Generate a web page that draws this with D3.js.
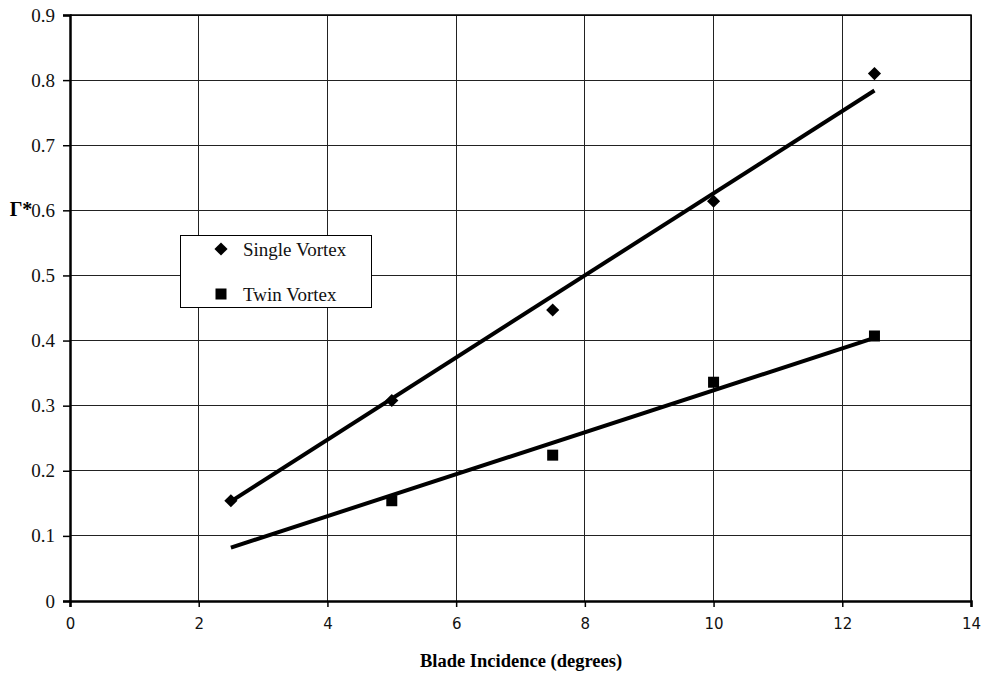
<!DOCTYPE html>
<html>
<head>
<meta charset="utf-8">
<script src="https://cdn.jsdelivr.net/npm/d3@7"></script>
<style>
  html, body { margin: 0; padding: 0; background: #fff; }
  svg { display: block; }
</style>
</head>
<body>
<svg id="chart" width="987" height="673"></svg>
<script>
// Blade incidence (degrees) at which circulation was measured
const incidence = [2.5, 5, 7.5, 10, 12.5];
// Non-dimensional circulation for each vortex configuration
const singleVortex = [0.154, 0.308, 0.447, 0.614, 0.81];
const twinIncidence = [5, 7.5, 10, 12.5];
const twinVortex = [0.154, 0.224, 0.336, 0.407];
// Linear trend lines, end points
const fitX = [2.5, 12.5];
const singleFit = [0.153, 0.784];
const twinFit = [0.082, 0.404];
// Axis ticks
const xTicks = [0, 2, 4, 6, 8, 10, 12, 14];
const yTicks = [0, 0.1, 0.2, 0.3, 0.4, 0.5, 0.6, 0.7, 0.8, 0.9];
const legendLabels = ["Single Vortex", "Twin Vortex"];

const serif = "'Liberation Serif', 'Times New Roman', serif";
const sans = "'DejaVu Sans', Verdana, sans-serif";

const svg = d3.select("#chart");
const m = { left: 70, right: 971, top: 15, bottom: 601 };

const x = d3.scaleLinear().domain([0, 14]).range([m.left, m.right]);
const y = d3.scaleLinear().domain([0, 0.9]).range([m.bottom, m.top]);

// Grid
const grid = svg.append("g").attr("stroke", "#222").attr("stroke-width", 1).attr("shape-rendering", "crispEdges");
grid.selectAll("line.h").data(yTicks.slice(1)).join("line")
  .attr("x1", m.left).attr("x2", m.right)
  .attr("y1", d => y(d)).attr("y2", d => y(d));
grid.selectAll("line.v").data(xTicks.slice(1)).join("line")
  .attr("y1", m.top).attr("y2", m.bottom)
  .attr("x1", d => x(d)).attr("x2", d => x(d));

// Frame (top and right)
svg.append("path")
  .attr("d", `M${m.left},${m.top}H${m.right}V${m.bottom}`)
  .attr("fill", "none").attr("stroke", "#000").attr("stroke-width", 1.5);

// Axes
const yAxis = svg.append("g").attr("transform", `translate(${m.left},0)`)
  .call(d3.axisLeft(y).tickValues(yTicks).tickSize(7).tickPadding(8)
    .tickFormat(d => d === 0 ? "0" : d3.format(".1f")(d)));
yAxis.attr("font-family", serif).attr("font-size", 19);
yAxis.select(".domain").attr("stroke-width", 2.5);
yAxis.selectAll(".tick line").attr("stroke-width", 1.5);
yAxis.selectAll(".tick text").attr("fill", "#111");

const xAxis = svg.append("g").attr("transform", `translate(0,${m.bottom})`)
  .call(d3.axisBottom(x).tickValues(xTicks).tickSize(6).tickPadding(11).tickFormat(d3.format("d")));
xAxis.attr("font-family", sans).attr("font-size", 15);
xAxis.select(".domain").attr("stroke-width", 2.5);
xAxis.selectAll(".tick line").attr("stroke-width", 1.5);
xAxis.selectAll(".tick text").attr("fill", "#111");

// Trend lines
const line = d3.line().x(d => x(d[0])).y(d => y(d[1]));
[singleFit, twinFit].forEach(fit => {
  svg.append("path")
    .datum(fitX.map((v, i) => [v, fit[i]]))
    .attr("d", line)
    .attr("fill", "none").attr("stroke", "#000").attr("stroke-width", 4);
});

// Markers
const diamond = d3.symbol().type(d3.symbolDiamond2).size(110);
svg.append("g").selectAll("path").data(incidence.map((v, i) => [v, singleVortex[i]])).join("path")
  .attr("d", diamond)
  .attr("transform", d => `translate(${x(d[0])},${y(d[1])})`)
  .attr("fill", "#000");

svg.append("g").selectAll("rect").data(twinIncidence.map((v, i) => [v, twinVortex[i]])).join("rect")
  .attr("x", d => x(d[0]) - 5.5).attr("y", d => y(d[1]) - 5.5)
  .attr("width", 11).attr("height", 11)
  .attr("fill", "#000");

// Axis titles
svg.append("text")
  .attr("x", 21).attr("y", 216)
  .attr("text-anchor", "middle")
  .attr("font-family", serif)
  .attr("font-weight", "bold").attr("font-size", 20)
  .text("Γ*");

svg.append("text")
  .attr("x", 521).attr("y", 667)
  .attr("text-anchor", "middle")
  .attr("font-family", serif)
  .attr("font-weight", "bold").attr("font-size", 18.5)
  .text("Blade Incidence (degrees)");

// Legend
const legend = svg.append("g");
legend.append("rect")
  .attr("x", 180.5).attr("y", 235.5).attr("width", 191).attr("height", 72)
  .attr("fill", "#fff").attr("stroke", "#000").attr("stroke-width", 1);
legend.append("path")
  .attr("d", diamond)
  .attr("transform", "translate(221,249)")
  .attr("fill", "#000");
legend.append("rect")
  .attr("x", 215.5).attr("y", 288.5).attr("width", 11).attr("height", 11)
  .attr("fill", "#000");
legend.selectAll("text").data(legendLabels).join("text")
  .attr("x", 243).attr("y", (d, i) => 255.5 + i * 45)
  .attr("font-family", serif)
  .attr("font-size", 19).attr("fill", "#111")
  .text(d => d);
</script>
</body>
</html>
